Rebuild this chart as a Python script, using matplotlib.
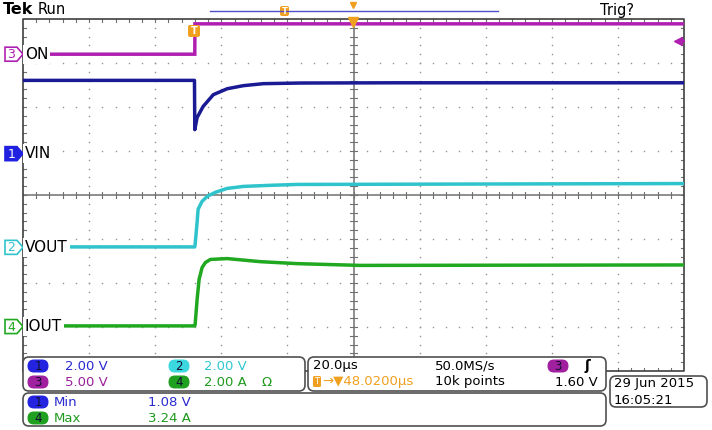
import numpy as np
import matplotlib.pyplot as plt
from matplotlib.patches import FancyBboxPatch, Polygon

# scope settings
t_center = 48.02          # us, time at screen centre relative to trigger
t_div = 20.0              # us/div
ch_names = ['VIN', 'VOUT', 'ON', 'IOUT']
ch_scale = [2.0, 2.0, 5.0, 2.0]          # V/div or A/div
ch_offset = [0.94, -1.19, 3.20, -2.99]   # ground marker position, divisions

# traces (time in us, value in V or A)
t_vin = [-52, -0.1, 0.0, 0.7, 2.5, 5.6, 9.8, 14.7, 20.7, 32, 60, 148]
v_vin = [3.33, 3.33, 1.09, 1.64, 2.14, 2.68, 2.95, 3.09, 3.18, 3.21, 3.22, 3.22]

t_vout = [-52, 0.0, 0.1, 0.7, 1.0, 2.2, 3.8, 6.2, 9.8, 14.7, 22.8, 31, 148]
v_vout = [0.02, 0.02, 0.14, 1.14, 1.73, 2.09, 2.32, 2.50, 2.68, 2.77, 2.82, 2.86, 2.90]

t_on = [-52, 0.0, 0.05, 148]
v_on = [0.0, 0.0, 3.45, 3.45]

t_iout = [-52, 0.0, 0.1, 0.7, 1.3, 2.2, 3.2, 4.7, 9.8, 19.8, 31, 50, 148]
i_iout = [0.03, 0.03, 0.09, 1.23, 2.14, 2.68, 2.91, 3.05, 3.09, 2.95, 2.86, 2.78, 2.80]

trig_level = 1.60
meas_min_vin = 1.08
meas_max_iout = 3.24

c_blue = '#1a1a94'
c_cyan = '#2fc3cc'
c_mag = '#b020b0'
c_green = '#20a820'
c_orange = '#f0a020'

fig = plt.figure(figsize=(7.12, 4.30), dpi=100)

# graticule area in pixels: x 23..684, y 19..371
ax = fig.add_axes([23/712, 1 - 371/430, 661/712, 352/430])
x0, x1 = t_center - 5*t_div, t_center + 5*t_div
ax.set_xlim(x0, x1)
ax.set_ylim(-4, 4)
ax.axis('off')

# dotted grid
for k in range(1, 10):
    if k == 5:
        continue
    xv = x0 + k*t_div
    yy = np.arange(-4, 4.001, 0.2)
    ax.plot(np.full_like(yy, xv), yy, ls='none', marker='s', ms=1.0, color='#909090', mew=0)
for k in range(-3, 4):
    if k == 0:
        continue
    xx = x0 + np.arange(0, 10.001, 0.2)*t_div
    ax.plot(xx, np.full_like(xx, k), ls='none', marker='s', ms=1.0, color='#909090', mew=0)

# centre cross with ticks
ax.axhline(0, color='#707070', lw=1.1)
ax.axvline(t_center, color='#707070', lw=1.1)
for j in range(1, 50):
    xv = x0 + j*0.2*t_div
    ax.plot([xv, xv], [-0.07, 0.07], color='#707070', lw=0.8)
    ax.plot([xv, xv], [-4, -3.93], color='#707070', lw=0.8)
    ax.plot([xv, xv], [4, 3.93], color='#707070', lw=0.8)
for j in range(1, 40):
    yv = -4 + j*0.2
    ax.plot([t_center - 1.0, t_center + 1.0], [yv, yv], color='#707070', lw=0.8)
    ax.plot([x0, x0 + 0.8], [yv, yv], color='#707070', lw=0.8)
    ax.plot([x1 - 0.8, x1], [yv, yv], color='#707070', lw=0.8)
ax.plot([x0, x1, x1, x0, x0], [-4, -4, 4, 4, -4], color='#404040', lw=1.2, clip_on=False)

# traces
def to_div(vals, ch):
    return np.array(vals)/ch_scale[ch] + ch_offset[ch]

ax.plot(t_on, to_div(v_on, 2), color=c_mag, lw=2.5, solid_joinstyle='miter')
ax.plot(t_vin, to_div(v_vin, 0), color=c_blue, lw=2.5)
ax.plot(t_vout, to_div(v_vout, 1), color=c_cyan, lw=2.5)
ax.plot(t_iout, to_div(i_iout, 3), color=c_green, lw=2.5)

# overlay in screen pixels
ov = fig.add_axes([0, 0, 1, 1])
ov.set_xlim(0, 712)
ov.set_ylim(430, 0)
ov.axis('off')

ov.text(3, 10, 'Tek', fontsize=11.5, fontweight='bold', va='center', ha='left')
ov.text(38, 10, 'Run', fontsize=10.5, va='center', ha='left')
ov.text(600, 11, 'Trig?', fontsize=10.5, va='center', ha='left')

# record view bar
ov.plot([210, 498], [11, 11], color='#5050c8', lw=1)
ov.add_patch(FancyBboxPatch((280, 6), 9, 10, boxstyle='round,pad=0,rounding_size=2',
                            fc=c_orange, ec='none'))
ov.text(284.5, 11, 'T', fontsize=6, color='white', ha='center', va='center', fontweight='bold')
ov.plot([353], [5], marker='v', ms=5, color=c_orange, ls='none')
ov.plot([353], [22], marker='v', ms=6.5, color=c_orange, ls='none')

# trigger position marker
ov.add_patch(FancyBboxPatch((188, 25), 12, 12, boxstyle='round,pad=0,rounding_size=2',
                            fc=c_orange, ec='none'))
ov.text(194, 31.5, 'T', fontsize=7, color='white', ha='center', va='center', fontweight='bold')

# trigger level arrow
ov.plot([678], [41], marker='<', ms=6, color=c_mag, ls='none')
ov.plot([678, 684], [41, 41], color=c_mag, lw=1.5)

# channel markers and labels
def ch_marker(ch, num, label, color, filled):
    y = 195 - ch_offset[ch]*44
    pts = [(5, y - 7), (17, y - 7), (23, y), (17, y + 7), (5, y + 7)]
    ov.add_patch(Polygon(pts, closed=True, fc=color if filled else 'white',
                         ec=color, lw=1.2, zorder=5))
    ov.text(11.5, y + 0.5, num, fontsize=9, color='white' if filled else color,
            ha='center', va='center', zorder=6)
    ov.text(25, y, label, fontsize=11, color='black', ha='left', va='center', zorder=6,
            bbox=dict(boxstyle='square,pad=0.12', fc='white', ec='none'))

ch_marker(2, '3', 'ON', c_mag, False)
ch_marker(0, '1', 'VIN', '#2020e0', True)
ch_marker(1, '2', 'VOUT', c_cyan, False)
ch_marker(3, '4', 'IOUT', c_green, False)

# readout boxes
def rbox(xa, ya, xb, yb):
    ov.add_patch(FancyBboxPatch((xa, ya), xb - xa, yb - ya,
                                boxstyle='round,pad=0,rounding_size=6',
                                fc='white', ec='#505050', lw=1.2, zorder=7))

def pill(xc, yc, num, color):
    ov.add_patch(FancyBboxPatch((xc - 10.5, yc - 6.5), 21, 13,
                                boxstyle='round,pad=0,rounding_size=6.5',
                                fc=color, ec='none', zorder=8))
    ov.text(xc, yc + 0.5, num, fontsize=8.5, color='#101030', ha='center', va='center', zorder=9)

fs = 9.5
rbox(23, 357, 305, 391)
pill(38, 366, '1', '#2424e0')
ov.text(65, 366, f'{ch_scale[0]:.2f} V', fontsize=fs, color='#2a2ad0', va='center', zorder=9)
pill(179, 366, '2', '#3cd8e0')
ov.text(204, 366, f'{ch_scale[1]:.2f} V', fontsize=fs, color='#30c8d0', va='center', zorder=9)
pill(38, 382, '3', '#a020a0')
ov.text(65, 382, f'{ch_scale[2]:.2f} V', fontsize=fs, color='#9a209a', va='center', zorder=9)
pill(179, 382, '4', '#20a020')
ov.text(204, 382, f'{ch_scale[3]:.2f} A', fontsize=fs, color='#1e9a1e', va='center', zorder=9)
ov.text(262, 382, 'Ω', fontsize=fs, color='#1e9a1e', va='center', zorder=9)

rbox(308, 357, 606, 391)
ov.text(313, 366, f'{t_div:.1f}µs', fontsize=fs, color='black', va='center', zorder=9)
ov.text(435, 366, '50.0MS/s', fontsize=fs, color='black', va='center', zorder=9)
pill(558, 366, '3', '#a020a0')
ov.text(585, 366, 'ʃ', fontsize=10, color='black', va='center', fontweight='bold', zorder=9)
ov.add_patch(FancyBboxPatch((313, 376), 8, 11, boxstyle='round,pad=0,rounding_size=1.5',
                            fc=c_orange, ec='none', zorder=8))
ov.text(317, 381.5, 'T', fontsize=6, color='white', ha='center', va='center', zorder=9)
ov.text(322, 382, f'→▼{t_center:.4f}µs', fontsize=fs, color=c_orange, va='center', zorder=9)
ov.text(435, 382, '10k points', fontsize=fs, color='black', va='center', zorder=9)
ov.text(598, 382, f'{trig_level:.2f} V', fontsize=fs, color='black', va='center', ha='right', zorder=9)

rbox(23, 393, 606, 426)
pill(38, 402, '1', '#2424e0')
ov.text(54, 402, 'Min', fontsize=fs, color='#2a2ad0', va='center', zorder=9)
ov.text(148, 402, f'{meas_min_vin:.2f} V', fontsize=fs, color='#2a2ad0', va='center', zorder=9)
pill(38, 418, '4', '#20a020')
ov.text(54, 418, 'Max', fontsize=fs, color='#1e9a1e', va='center', zorder=9)
ov.text(148, 418, f'{meas_max_iout:.2f} A', fontsize=fs, color='#1e9a1e', va='center', zorder=9)

rbox(610, 376, 707, 407)
ov.text(614, 384, '29 Jun 2015', fontsize=fs, color='black', va='center', zorder=9)
ov.text(614, 400, '16:05:21', fontsize=fs, color='black', va='center', zorder=9)

fig.savefig('out.png', dpi=100)
